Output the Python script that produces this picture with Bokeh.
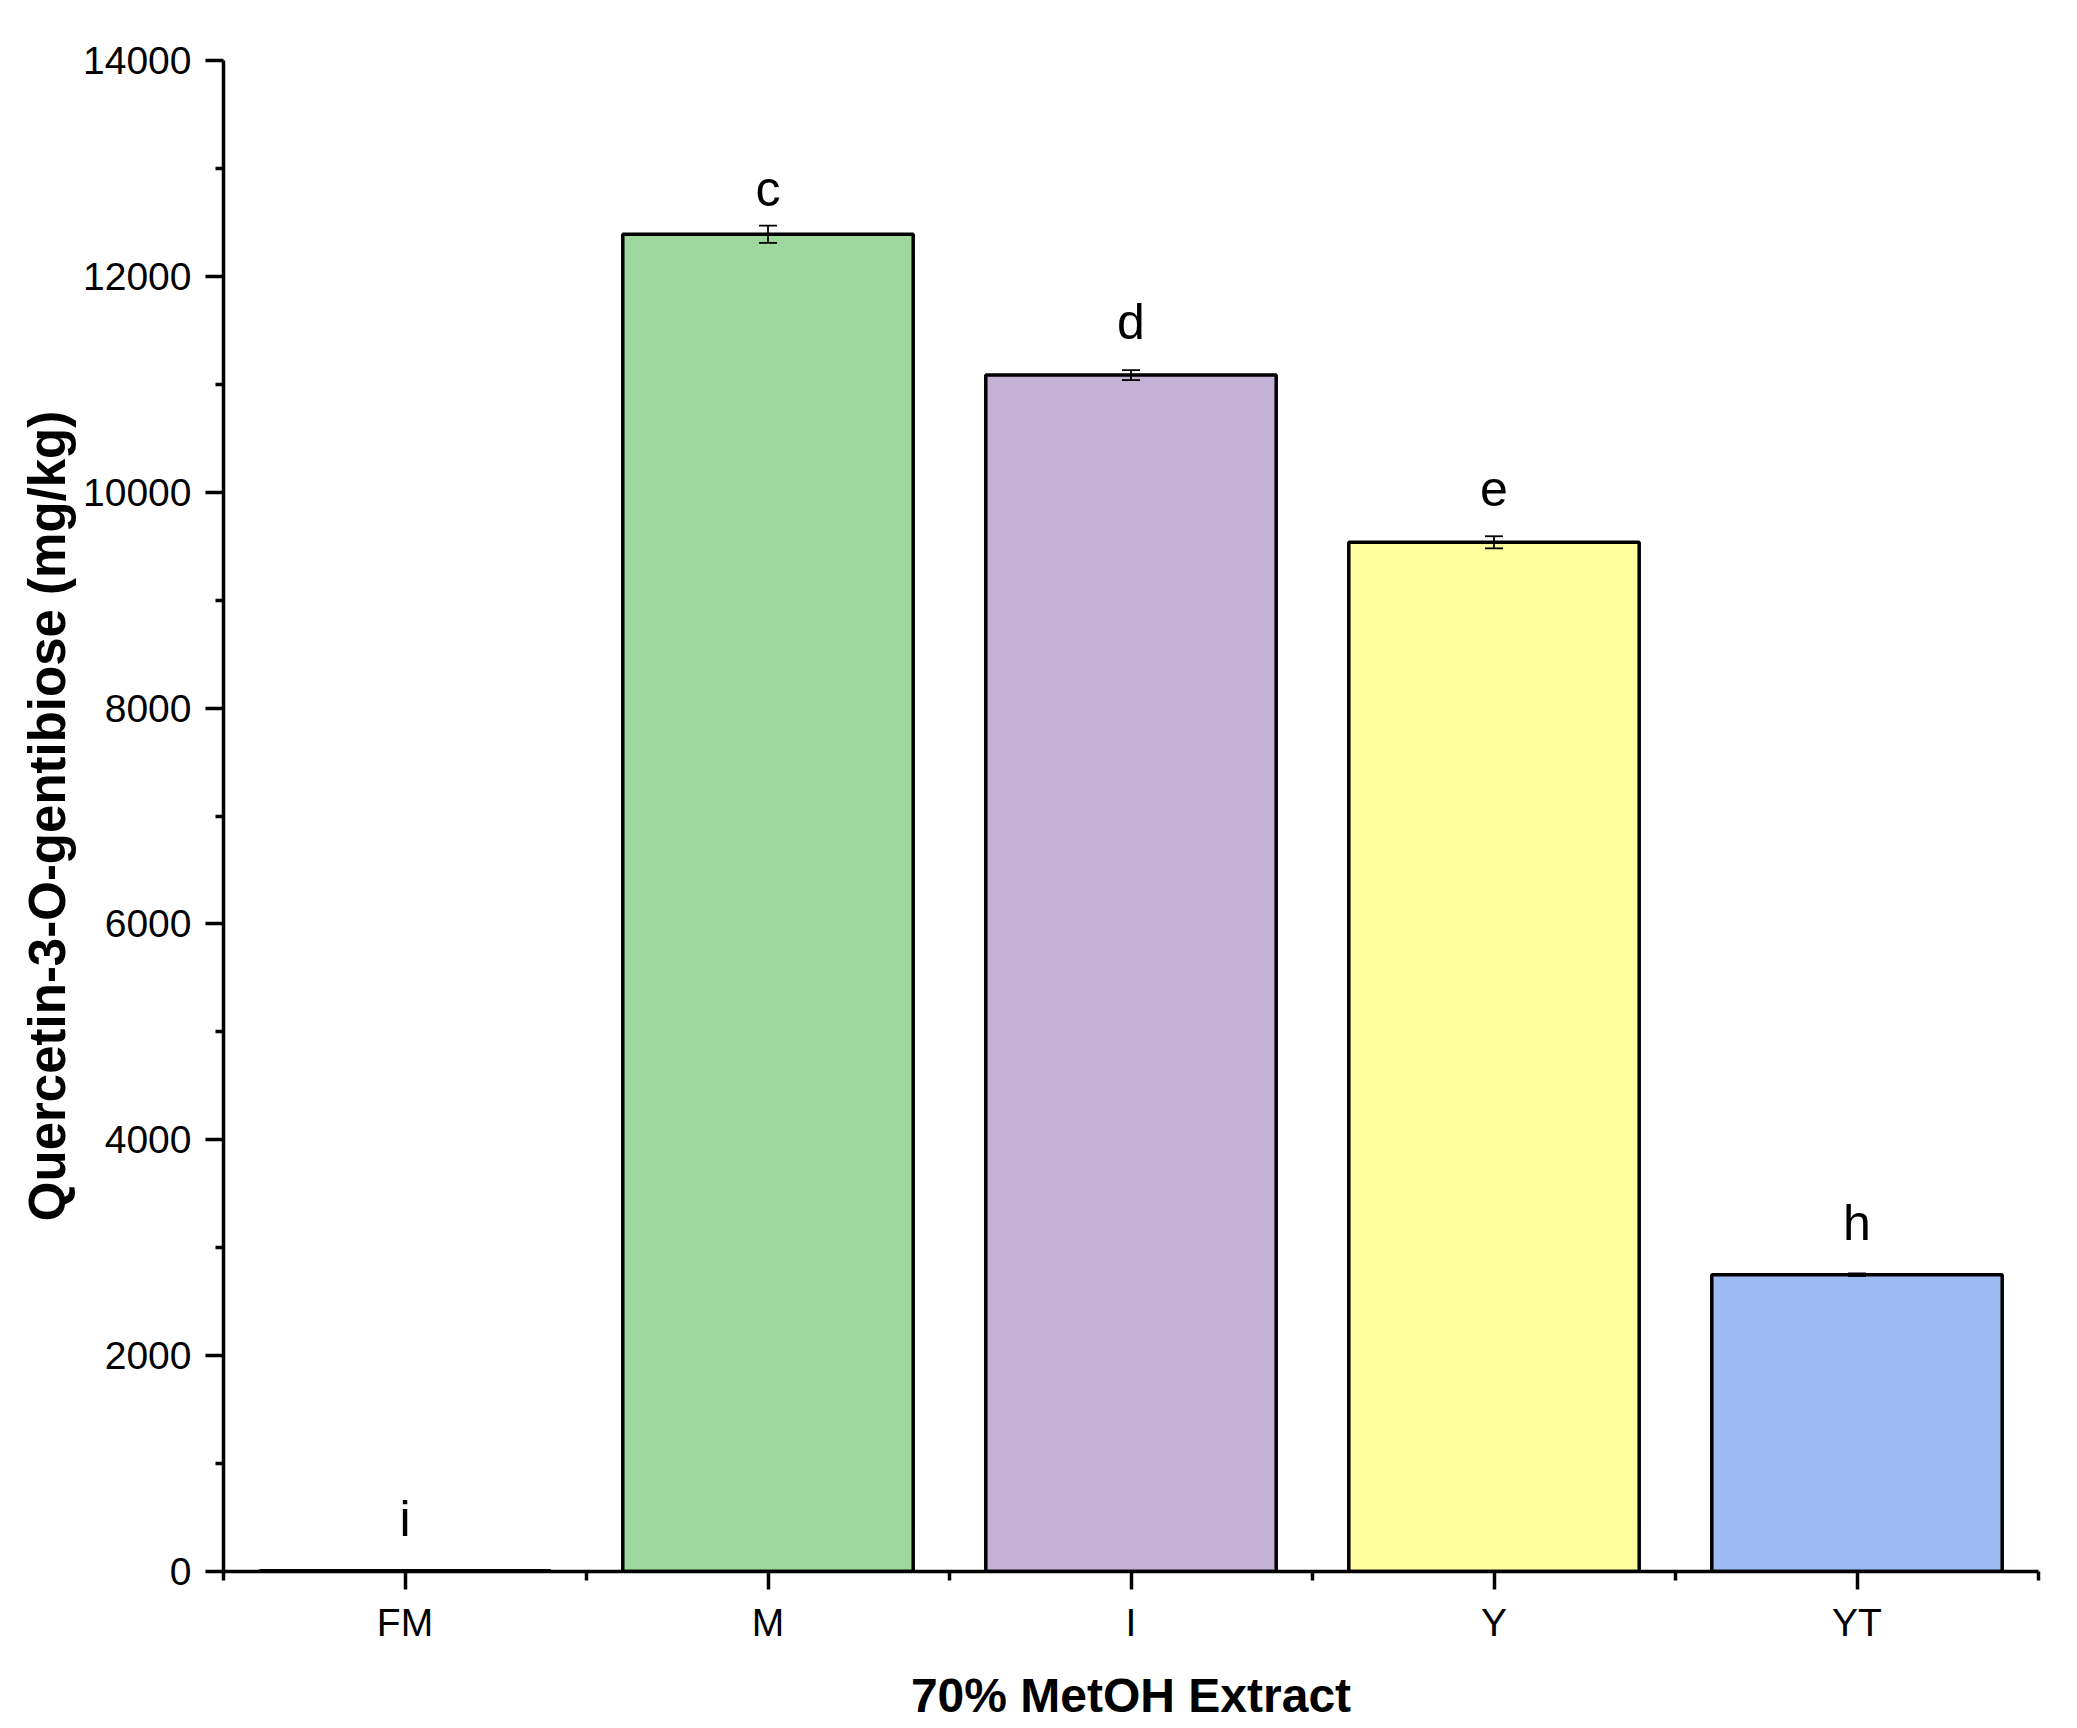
from bokeh.plotting import figure
from bokeh.models import (ColumnDataSource, Range1d, FixedTicker, Whisker, TeeHead)
from bokeh.core.properties import value
from bokeh.embed import file_html
from bokeh.resources import INLINE

# ---- data ----
categories = ["FM", "M", "I", "Y", "YT"]
means = [8, 12390, 11085, 9536, 2750]
errors = [5, 80, 46, 56, 12]
letters = ["i", "c", "d", "e", "h"]
letter_y = [334, 12665, 11430, 9889, 3083]
colors = ["#D9D9D9", "#9FD89C", "#C3B2D6", "#FFFD9E", "#9CBBF2"]
y_ticks = [0, 2000, 4000, 6000, 8000, 10000, 12000, 14000]
y_minor = [1000, 3000, 5000, 7000, 9000, 11000, 13000]

xs = [i + 1 for i in range(len(categories))]
src = ColumnDataSource(dict(
    x=xs, top=means, color=colors,
    upper=[m + e for m, e in zip(means, errors)],
    lower=[m - e for m, e in zip(means, errors)],
    letter=letters, ly=letter_y,
))

FONT = "Liberation Sans"

p = figure(frame_width=1815, frame_height=1511,
           x_range=Range1d(0.5, len(categories) + 0.5),
           y_range=Range1d(y_ticks[0], y_ticks[-1]),
           output_backend="svg", toolbar_location=None,
           min_border_left=223, min_border_top=60, min_border_right=30,
           min_border_bottom=140)

p.outline_line_color = None
p.xgrid.visible = False
p.ygrid.visible = False
p.background_fill_color = "white"
p.border_fill_color = "white"

p.vbar(x="x", top="top", bottom=0, width=0.8, source=src,
       fill_color="color", line_color="black", line_width=3.5)

wh = Whisker(base="x", upper="upper", lower="lower", source=src,
             line_color="black", line_width=1.8, level="overlay",
             upper_head=TeeHead(size=18, line_color="black", line_width=1.8),
             lower_head=TeeHead(size=18, line_color="black", line_width=1.8))
p.add_layout(wh)

p.text(x="x", y="ly", text="letter", source=src, text_align="center",
       text_baseline="alphabetic", y_offset=-16, text_font=value(FONT),
       text_font_size="50px", text_color="black")

# x axis
xa = p.xaxis[0]
xa.ticker = FixedTicker(ticks=xs, minor_ticks=[x - 0.5 for x in xs] + [xs[-1] + 0.5])
xa.major_label_overrides = {x: c for x, c in zip(xs, categories)}
xa.axis_label = "70% MetOH Extract"

ya = p.yaxis[0]
ya.ticker = FixedTicker(ticks=y_ticks, minor_ticks=y_minor)
ya.axis_label = "Quercetin-3-O-gentibiose (mg/kg)"
ya.major_label_orientation = "horizontal"

for ax in (xa, ya):
    ax.axis_line_width = 3.5
    ax.axis_line_color = "black"
    ax.major_tick_line_width = 3.5
    ax.minor_tick_line_width = 3.5
    ax.major_tick_line_color = "black"
    ax.minor_tick_line_color = "black"
    ax.major_tick_out = 18
    ax.major_tick_in = 0
    ax.minor_tick_out = 9
    ax.minor_tick_in = 0
    ax.major_label_text_font = FONT
    ax.major_label_text_font_size = "39px"
    ax.major_label_text_color = "black"
    ax.axis_label_text_font = FONT
    ax.axis_label_text_font_style = "bold"
    ax.axis_label_text_color = "black"

xa.axis_label_text_font_size = "48px"
ya.axis_label_text_font_size = "51px"
xa.major_label_standoff = 11
xa.axis_label_standoff = 22
ya.major_label_standoff = 14
ya.axis_label_standoff = 4
ya.minor_tick_out = 8

open("out.html", "w").write(file_html(p, INLINE))
